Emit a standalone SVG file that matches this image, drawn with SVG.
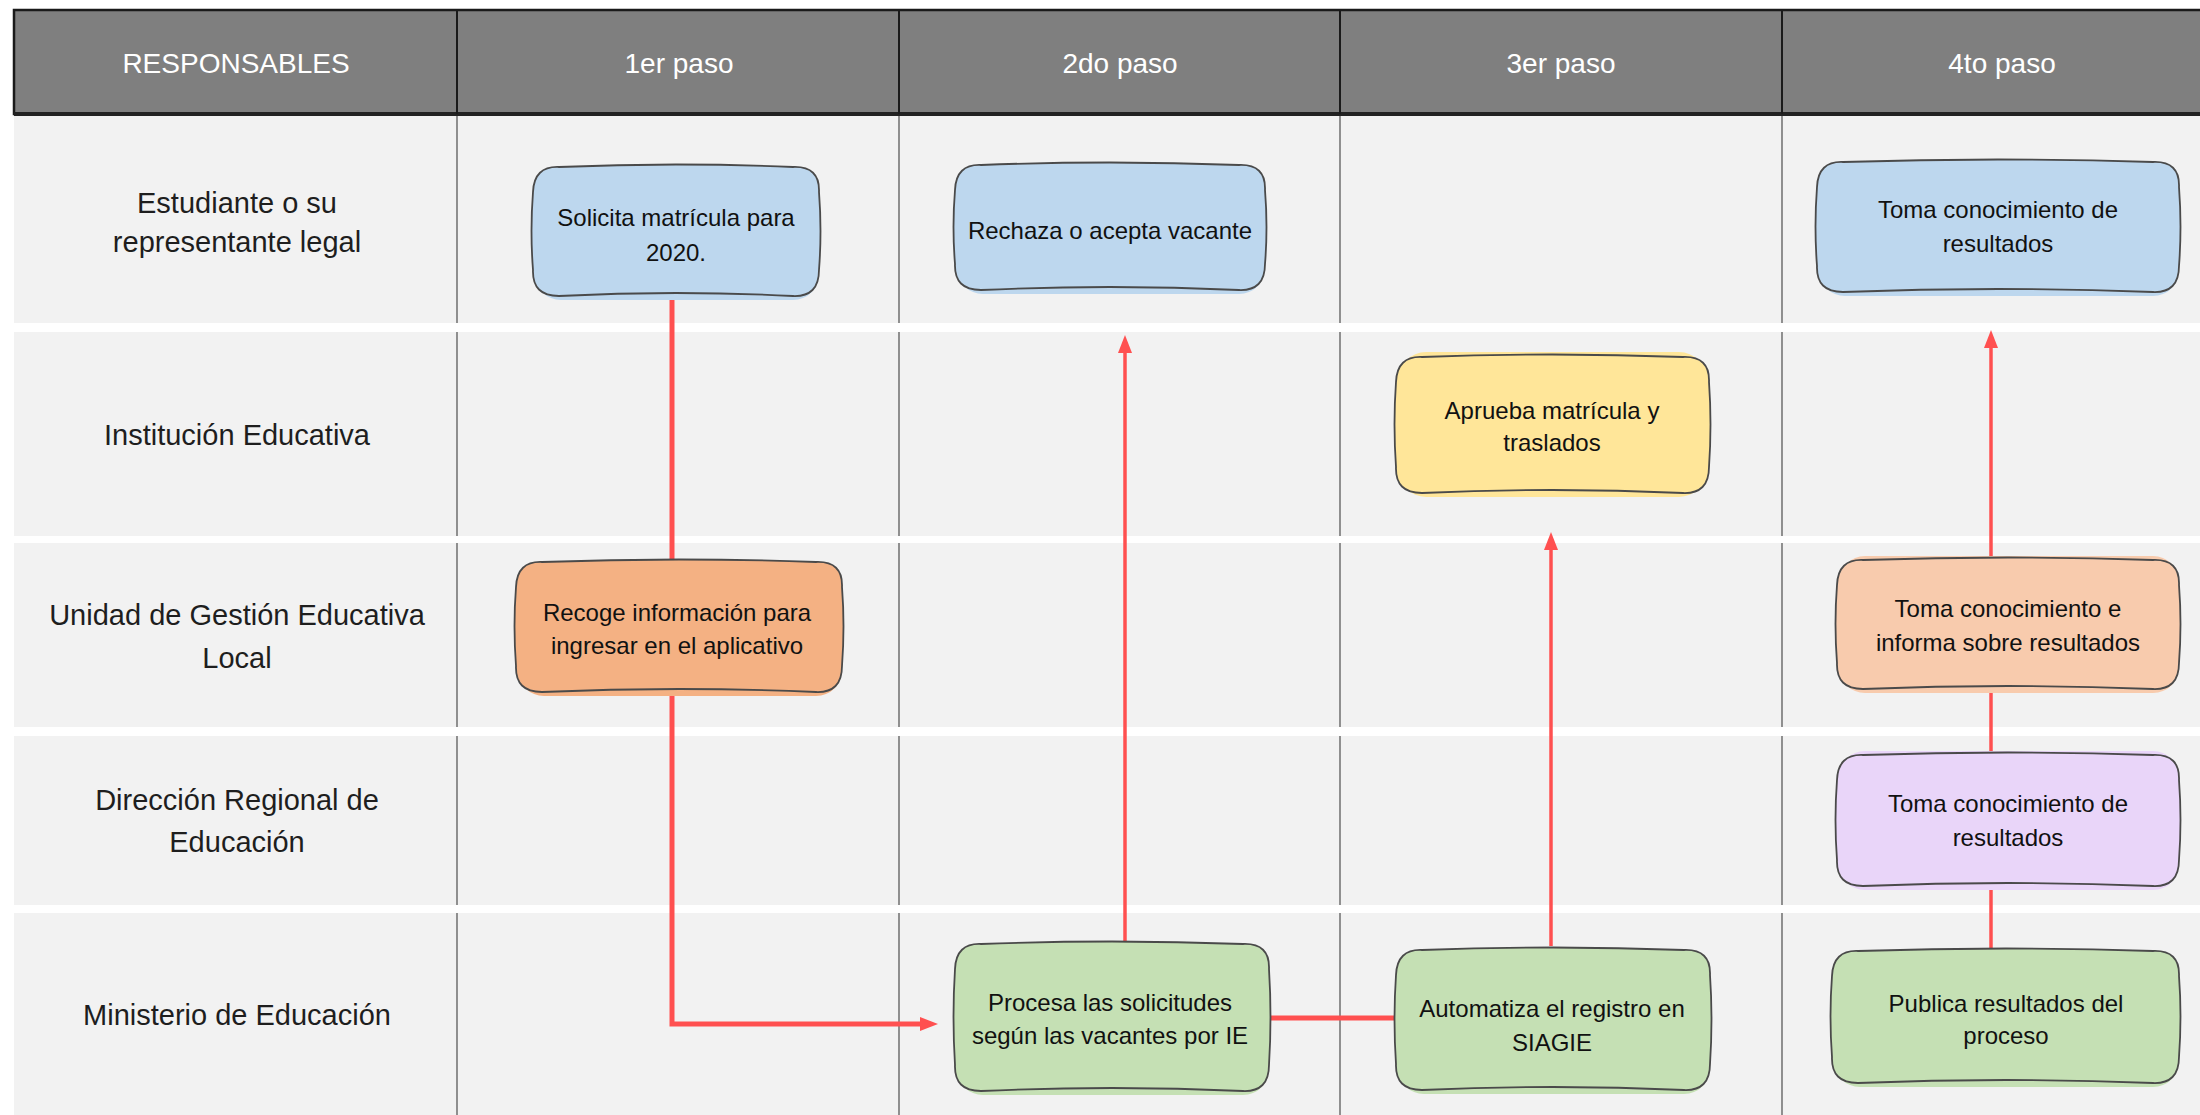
<svg xmlns="http://www.w3.org/2000/svg" width="2200" height="1115" viewBox="0 0 2200 1115">
<style>
.hdr{font-family:"Liberation Sans",Arial,sans-serif;font-size:28px;fill:#ffffff;text-anchor:middle;dominant-baseline:central}
.lbl{font-family:"Liberation Sans",Arial,sans-serif;font-size:29px;fill:#1e1e1e;text-anchor:middle;dominant-baseline:central}
.txt{font-family:"Liberation Sans",Arial,sans-serif;font-size:24px;fill:#111111;text-anchor:middle;dominant-baseline:central}
.box{stroke:#4a4a4a;stroke-width:1.8;stroke-linejoin:round}
.col{stroke:#5a5a5a;stroke-width:1.3}
.band{fill:#ffffff}
.con{fill:none;stroke:#ff5050;stroke-linejoin:miter}
.blue{fill:#bdd7ee}.yellow{fill:#ffe699}.orange{fill:#f4b183}.lorange{fill:#f8cbad}.purple{fill:#e9d5f9}.green{fill:#c5e0b4}
</style>
<defs>
<marker id="arr" markerUnits="userSpaceOnUse" markerWidth="20" markerHeight="16" refX="6" refY="7" orient="auto">
<path d="M0,0 L18,7 L0,14 Z" fill="#ff5050"/>
</marker>
</defs>
<rect x="0" y="0" width="2200" height="1115" fill="#ffffff"/>
<g id="lanes">
<rect x="14" y="114" width="2200" height="1001" fill="#f2f2f2"/>
<line class="col" x1="457" y1="114" x2="457" y2="1115"/>
<line class="col" x1="899" y1="114" x2="899" y2="1115"/>
<line class="col" x1="1340" y1="114" x2="1340" y2="1115"/>
<line class="col" x1="1782" y1="114" x2="1782" y2="1115"/>
<rect class="band" x="14" y="323" width="2200" height="9"/>
<rect class="band" x="14" y="536" width="2200" height="7"/>
<rect class="band" x="14" y="727" width="2200" height="9"/>
<rect class="band" x="14" y="905" width="2200" height="8"/>
</g>
<g id="header">
<rect x="14" y="10" width="2200" height="104" fill="#7f7f7f" stroke="#1a1a1a" stroke-width="2.5"/>
<line x1="14" y1="114" x2="2200" y2="114" stroke="#222222" stroke-width="4"/>
<line x1="457" y1="10" x2="457" y2="114" stroke="#1a1a1a" stroke-width="2"/>
<line x1="899" y1="10" x2="899" y2="114" stroke="#1a1a1a" stroke-width="2"/>
<line x1="1340" y1="10" x2="1340" y2="114" stroke="#1a1a1a" stroke-width="2"/>
<line x1="1782" y1="10" x2="1782" y2="114" stroke="#1a1a1a" stroke-width="2"/>
<text class="hdr" x="236" y="63">RESPONSABLES</text>
<text class="hdr" x="679" y="63">1er paso</text>
<text class="hdr" x="1120" y="63">2do paso</text>
<text class="hdr" x="1561" y="63">3er paso</text>
<text class="hdr" x="2002" y="63">4to paso</text>
</g>
<g id="row-labels">
<text class="lbl" x="237" y="203">Estudiante o su</text>
<text class="lbl" x="237" y="242">representante legal</text>
<text class="lbl" x="237" y="435">Institución Educativa</text>
<text class="lbl" x="237" y="615">Unidad de Gestión Educativa</text>
<text class="lbl" x="237" y="658">Local</text>
<text class="lbl" x="237" y="800">Dirección Regional de</text>
<text class="lbl" x="237" y="842">Educación</text>
<text class="lbl" x="237" y="1015">Ministerio de Educación</text>
</g>
<g id="connectors">
<path class="con" stroke-width="5" d="M672,296 V1024 H926" marker-end="url(#arr)"/>
<path class="con" stroke-width="3.5" d="M1125,942 V347" marker-end="url(#arr)"/>
<path class="con" stroke-width="3.5" d="M1551,946 V544" marker-end="url(#arr)"/>
<path class="con" stroke-width="5" d="M1269,1018 H1396"/>
<path class="con" stroke-width="3.5" d="M1991,950 V342" marker-end="url(#arr)"/>
</g>
<g id="n1">
<rect class="blue" x="535" y="170" width="284" height="130" rx="26"/>
<path class="box blue" d="M559,167 Q676,162 793,167 Q820,166 819,192 Q822,231 819,270 Q819,297 793,296 Q676,290 559,296 Q532,296 533,270 Q530,231 533,192 Q534,166 559,167Z"/>
<text class="txt" x="676" y="217">Solicita matrícula para</text>
<text class="txt" x="676" y="252">2020.</text>
</g>
<g id="n2">
<rect class="blue" x="957" y="168" width="308" height="126" rx="26"/>
<path class="box blue" d="M981,165 Q1110,160 1239,165 Q1266,164 1265,190 Q1268,227 1265,264 Q1265,291 1239,290 Q1110,284 981,290 Q954,290 955,264 Q952,227 955,190 Q956,164 981,165Z"/>
<text class="txt" x="1110" y="230">Rechaza o acepta vacante</text>
</g>
<g id="n3">
<rect class="blue" x="1819" y="165" width="360" height="131" rx="26"/>
<path class="box blue" d="M1843,162 Q1998,157 2153,162 Q2180,161 2179,187 Q2182,227 2179,266 Q2179,293 2153,292 Q1998,286 1843,292 Q1816,292 1817,266 Q1814,227 1817,187 Q1818,161 1843,162Z"/>
<text class="txt" x="1998" y="209">Toma conocimiento de</text>
<text class="txt" x="1998" y="243">resultados</text>
</g>
<g id="n4">
<rect class="yellow" x="1398" y="352" width="309" height="145" rx="28"/>
<path class="box yellow" d="M1422,357 Q1552,352 1683,357 Q1710,356 1709,382 Q1712,424 1709,467 Q1709,494 1683,493 Q1552,487 1422,493 Q1395,493 1396,467 Q1393,424 1396,382 Q1397,356 1422,357Z"/>
<text class="txt" x="1552" y="410">Aprueba matrícula y</text>
<text class="txt" x="1552" y="442">traslados</text>
</g>
<g id="n5">
<rect class="orange" x="518" y="565" width="324" height="131" rx="26"/>
<path class="box orange" d="M542,562 Q679,557 816,562 Q843,561 842,587 Q845,626 842,666 Q842,693 816,692 Q679,686 542,692 Q515,692 516,666 Q513,626 516,587 Q517,561 542,562Z"/>
<text class="txt" x="677" y="612">Recoge información para</text>
<text class="txt" x="677" y="645">ingresar en el aplicativo</text>
</g>
<g id="n6">
<rect class="lorange" x="1839" y="556" width="340" height="137" rx="26"/>
<path class="box lorange" d="M1863,560 Q2008,555 2153,560 Q2180,559 2179,585 Q2182,624 2179,663 Q2179,690 2153,689 Q2008,683 1863,689 Q1836,689 1837,663 Q1834,624 1837,585 Q1838,559 1863,560Z"/>
<text class="txt" x="2008" y="608">Toma conocimiento e</text>
<text class="txt" x="2008" y="642">informa sobre resultados</text>
</g>
<g id="n7">
<rect class="purple" x="1839" y="751" width="340" height="139" rx="26"/>
<path class="box purple" d="M1863,755 Q2008,750 2153,755 Q2180,754 2179,780 Q2182,820 2179,860 Q2179,887 2153,886 Q2008,880 1863,886 Q1836,886 1837,860 Q1834,820 1837,780 Q1838,754 1863,755Z"/>
<text class="txt" x="2008" y="803">Toma conocimiento de</text>
<text class="txt" x="2008" y="837">resultados</text>
</g>
<g id="n8">
<rect class="green" x="1834" y="952" width="345" height="135" rx="26"/>
<path class="box green" d="M1858,951 Q2006,946 2153,951 Q2180,950 2179,976 Q2182,1016 2179,1057 Q2179,1084 2153,1083 Q2006,1077 1858,1083 Q1831,1083 1832,1057 Q1829,1016 1832,976 Q1833,950 1858,951Z"/>
<text class="txt" x="2006" y="1003">Publica resultados del</text>
<text class="txt" x="2006" y="1035">proceso</text>
</g>
<g id="n9">
<rect class="green" x="1398" y="953" width="312" height="141" rx="26"/>
<path class="box green" d="M1422,950 Q1553,945 1684,950 Q1711,949 1710,975 Q1713,1019 1710,1064 Q1710,1091 1684,1090 Q1553,1084 1422,1090 Q1395,1090 1396,1064 Q1393,1019 1396,975 Q1397,949 1422,950Z"/>
<text class="txt" x="1552" y="1008">Automatiza el registro en</text>
<text class="txt" x="1552" y="1042">SIAGIE</text>
</g>
<g id="n10">
<rect class="green" x="957" y="947" width="312" height="148" rx="26"/>
<path class="box green" d="M981,944 Q1112,939 1243,944 Q1270,943 1269,969 Q1272,1017 1269,1065 Q1269,1092 1243,1091 Q1112,1085 981,1091 Q954,1091 955,1065 Q952,1017 955,969 Q956,943 981,944Z"/>
<text class="txt" x="1110" y="1002">Procesa las solicitudes</text>
<text class="txt" x="1110" y="1035">según las vacantes por IE</text>
</g>
</svg>
